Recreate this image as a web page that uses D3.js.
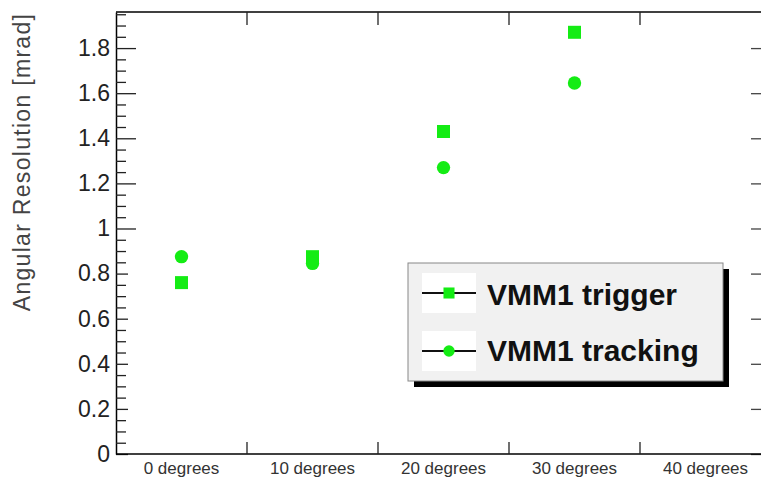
<!DOCTYPE html>
<html>
<head>
<meta charset="utf-8">
<script src="https://cdn.jsdelivr.net/npm/d3@7"></script>
<style>
  body { margin: 0; background: #fff; }
  svg { display: block; }
  text { font-family: "Liberation Sans", Arial, Helvetica, sans-serif; }
</style>
</head>
<body>
<div id="chart"></div>
<script>
// data
var categories = ["0 degrees", "10 degrees", "20 degrees", "30 degrees", "40 degrees"];
var triggerValues = [0.76, 0.875, 1.43, 1.87];
var trackingValues = [0.875, 0.845, 1.27, 1.645];
var yTicks = [0, 0.2, 0.4, 0.6, 0.8, 1, 1.2, 1.4, 1.6, 1.8];
var seriesNames = ["VMM1 trigger", "VMM1 tracking"];

var width = 761, height = 479;
var frame = {left: 116, right: 771, top: 12, bottom: 454};
var green = "#14ec14";

var svg = d3.select("#chart")
  .append("svg")
    .attr("width", width)
    .attr("height", height);

var x = d3.scaleBand()
    .domain(categories)
    .range([frame.left, frame.right])
    .padding(0);

var y = d3.scaleLinear()
    .domain([0, 1.96])
    .range([frame.bottom, frame.top]);

// minor ticks every 0.05
var minorTicks = d3.range(0, 1.96, 0.05).filter(function(v) {
    return Math.abs(v * 5 - Math.round(v * 5)) > 1e-6;
});

// left axis, ticks pointing inward
var yAxis = svg.append("g")
    .attr("transform", "translate(" + frame.left + ",0)")
    .call(d3.axisLeft(y).tickValues(yTicks).tickSizeInner(-20).tickSizeOuter(0)
        .tickPadding(6).tickFormat(function(d) { return d; }));
yAxis.select(".domain").attr("stroke", "#000").attr("stroke-width", 1.5);
yAxis.selectAll(".tick line")
    .attr("x2", function(d) { return d >= 1 ? 20 : 12; })
    .attr("stroke", "#222").attr("stroke-width", 1.3);
yAxis.selectAll(".tick text")
    .style("font-size", "23px")
    .attr("fill", "#222");

svg.append("g")
    .attr("transform", "translate(" + frame.left + ",0)")
    .call(d3.axisLeft(y).tickValues(minorTicks).tickSizeInner(-10).tickSizeOuter(0).tickFormat(""))
    .call(function(g) { g.select(".domain").remove(); })
    .selectAll(".tick line").attr("stroke", "#222").attr("stroke-width", 1.3);

// right axis (mostly outside the window)
var yRight = svg.append("g")
    .attr("transform", "translate(" + frame.right + ",0)")
    .call(d3.axisRight(y).tickValues(yTicks).tickSizeInner(-20).tickSizeOuter(0).tickFormat(""));
yRight.select(".domain").attr("stroke", "#000").attr("stroke-width", 1.5);
yRight.selectAll(".tick line").attr("stroke", "#444").attr("stroke-width", 1.3);

// bottom axis: labels at bin centres
var xAxis = svg.append("g")
    .attr("transform", "translate(0," + frame.bottom + ")")
    .call(d3.axisBottom(x).tickSize(0).tickPadding(8));
xAxis.select(".domain").remove();
xAxis.selectAll(".tick text")
    .style("font-size", "17px")
    .attr("fill", "#333");

// frame lines
svg.append("line")
    .attr("x1", frame.left).attr("x2", frame.right)
    .attr("y1", frame.bottom).attr("y2", frame.bottom)
    .attr("stroke", "#000").attr("stroke-width", 1.5);
svg.append("line")
    .attr("x1", frame.left).attr("x2", frame.right)
    .attr("y1", frame.top).attr("y2", frame.top)
    .attr("stroke", "#000").attr("stroke-width", 1.5);

// bin boundary ticks on bottom and top
var edges = categories.slice(1);
svg.append("g").selectAll("line")
    .data(edges)
    .enter()
    .append("line")
    .attr("x1", function(d) { return x(d); })
    .attr("x2", function(d) { return x(d); })
    .attr("y1", frame.bottom)
    .attr("y2", frame.bottom - 12)
    .attr("stroke", "#222").attr("stroke-width", 1.3);
svg.append("g").selectAll("line")
    .data(edges)
    .enter()
    .append("line")
    .attr("x1", function(d) { return x(d); })
    .attr("x2", function(d) { return x(d); })
    .attr("y1", frame.top)
    .attr("y2", frame.top + 13)
    .attr("stroke", "#222").attr("stroke-width", 1.3);

// y title
svg.append("text")
    .attr("transform", "translate(30," + 162 + ") rotate(-90)")
    .attr("text-anchor", "middle")
    .style("font-size", "23px")
    .style("letter-spacing", "1.3px")
    .attr("fill", "#444")
    .text("Angular Resolution [mrad]");

// markers
var squareSym = d3.symbol().type(d3.symbolSquare).size(169);
var circleSym = d3.symbol().type(d3.symbolCircle).size(140);
var cx = function(i) { return x(categories[i]) + x.bandwidth() / 2; };

svg.append("g").selectAll("path")
    .data(triggerValues)
    .enter()
    .append("path")
    .attr("d", squareSym)
    .attr("transform", function(d, i) { return "translate(" + cx(i) + "," + y(d) + ")"; })
    .attr("fill", green);

svg.append("g").selectAll("path")
    .data(trackingValues)
    .enter()
    .append("path")
    .attr("d", circleSym)
    .attr("transform", function(d, i) { return "translate(" + cx(i) + "," + y(d) + ")"; })
    .attr("fill", green);

// legend
var legend = svg.append("g");
legend.append("rect")
    .attr("x", 414).attr("y", 269)
    .attr("width", 315).attr("height", 118)
    .attr("fill", "#000");
legend.append("rect")
    .attr("x", 408).attr("y", 263)
    .attr("width", 315).attr("height", 118)
    .attr("fill", "#f1f1f1")
    .attr("stroke", "#888").attr("stroke-width", 1);

var rows = [{name: seriesNames[0], sym: squareSym, cy: 293, base: 305},
            {name: seriesNames[1], sym: circleSym, cy: 351, base: 361}];
var entry = legend.selectAll(".entry")
    .data(rows)
    .enter()
    .append("g")
    .attr("class", "entry");
entry.append("rect")
    .attr("x", 422).attr("y", function(d) { return d.cy - 20; })
    .attr("width", 54).attr("height", 40)
    .attr("fill", "#fff");
entry.append("line")
    .attr("x1", 422).attr("x2", 476)
    .attr("y1", function(d) { return d.cy; })
    .attr("y2", function(d) { return d.cy; })
    .attr("stroke", "#111").attr("stroke-width", 2);
entry.append("path")
    .attr("d", function(d) { return d.sym(); })
    .attr("transform", function(d) { return "translate(449," + d.cy + ") scale(0.85)"; })
    .attr("fill", green);
entry.append("text")
    .attr("x", 487)
    .attr("y", function(d) { return d.base; })
    .style("font-size", "30px")
    .style("font-weight", "bold")
    .attr("fill", "#111")
    .text(function(d) { return d.name; });
</script>
</body>
</html>
